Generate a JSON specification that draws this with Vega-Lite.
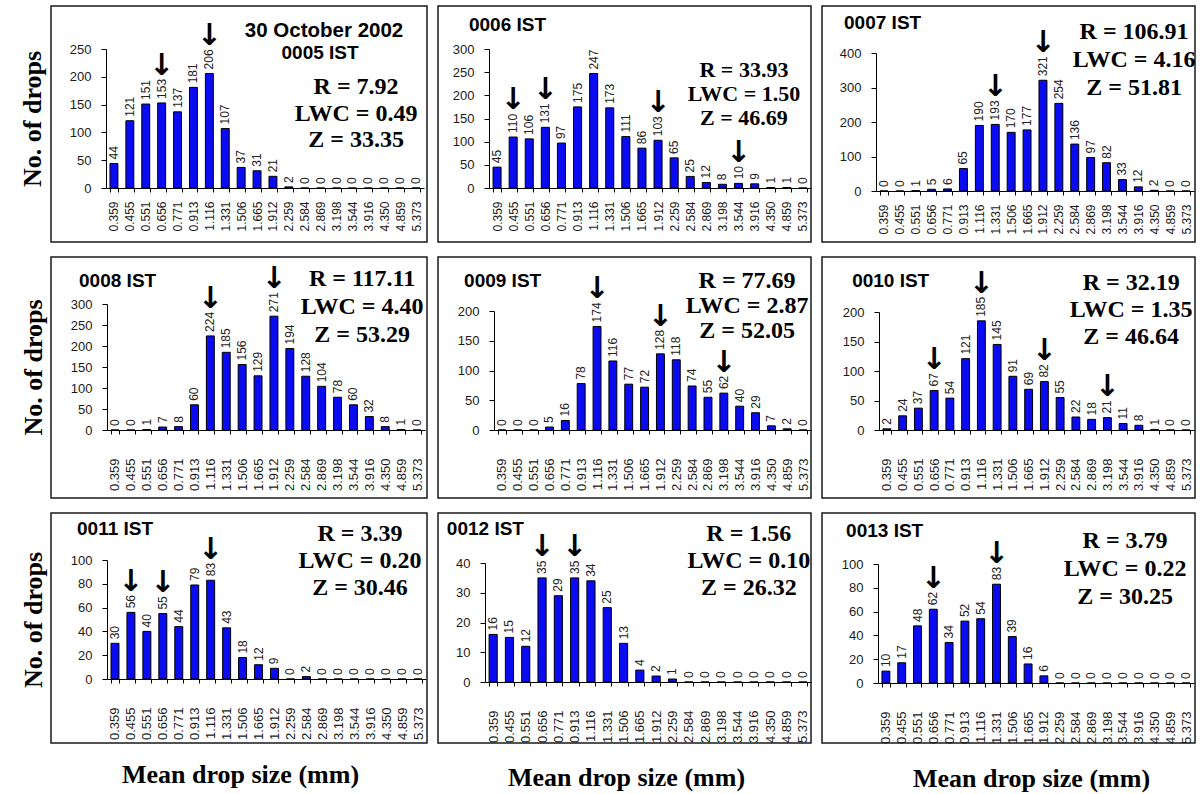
{
"$schema": "https://vega.github.io/schema/vega-lite/v6.json",
"padding": {"left": 18, "top": 5, "right": 0, "bottom": 0},
"background": "white",
"datasets": {
"drops": [
{"panel":"0005","size":"0.359","count":44,"peak":0},{"panel":"0005","size":"0.455","count":121,"peak":0},{"panel":"0005","size":"0.551","count":151,"peak":0},{"panel":"0005","size":"0.656","count":153,"peak":1},{"panel":"0005","size":"0.771","count":137,"peak":0},{"panel":"0005","size":"0.913","count":181,"peak":0},{"panel":"0005","size":"1.116","count":206,"peak":1},{"panel":"0005","size":"1.331","count":107,"peak":0},{"panel":"0005","size":"1.506","count":37,"peak":0},{"panel":"0005","size":"1.665","count":31,"peak":0},{"panel":"0005","size":"1.912","count":21,"peak":0},{"panel":"0005","size":"2.259","count":2,"peak":0},{"panel":"0005","size":"2.584","count":0,"peak":0},{"panel":"0005","size":"2.869","count":0,"peak":0},{"panel":"0005","size":"3.198","count":0,"peak":0},{"panel":"0005","size":"3.544","count":0,"peak":0},{"panel":"0005","size":"3.916","count":0,"peak":0},{"panel":"0005","size":"4.350","count":0,"peak":0},{"panel":"0005","size":"4.859","count":0,"peak":0},{"panel":"0005","size":"5.373","count":0,"peak":0},
{"panel":"0006","size":"0.359","count":45,"peak":0},{"panel":"0006","size":"0.455","count":110,"peak":1},{"panel":"0006","size":"0.551","count":106,"peak":0},{"panel":"0006","size":"0.656","count":131,"peak":1},{"panel":"0006","size":"0.771","count":97,"peak":0},{"panel":"0006","size":"0.913","count":175,"peak":0},{"panel":"0006","size":"1.116","count":247,"peak":0},{"panel":"0006","size":"1.331","count":173,"peak":0},{"panel":"0006","size":"1.506","count":111,"peak":0},{"panel":"0006","size":"1.665","count":86,"peak":0},{"panel":"0006","size":"1.912","count":103,"peak":1},{"panel":"0006","size":"2.259","count":65,"peak":0},{"panel":"0006","size":"2.584","count":25,"peak":0},{"panel":"0006","size":"2.869","count":12,"peak":0},{"panel":"0006","size":"3.198","count":8,"peak":0},{"panel":"0006","size":"3.544","count":10,"peak":1},{"panel":"0006","size":"3.916","count":9,"peak":0},{"panel":"0006","size":"4.350","count":1,"peak":0},{"panel":"0006","size":"4.859","count":1,"peak":0},{"panel":"0006","size":"5.373","count":0,"peak":0},
{"panel":"0007","size":"0.359","count":0,"peak":0},{"panel":"0007","size":"0.455","count":0,"peak":0},{"panel":"0007","size":"0.551","count":1,"peak":0},{"panel":"0007","size":"0.656","count":5,"peak":0},{"panel":"0007","size":"0.771","count":6,"peak":0},{"panel":"0007","size":"0.913","count":65,"peak":0},{"panel":"0007","size":"1.116","count":190,"peak":0},{"panel":"0007","size":"1.331","count":193,"peak":1},{"panel":"0007","size":"1.506","count":170,"peak":0},{"panel":"0007","size":"1.665","count":177,"peak":0},{"panel":"0007","size":"1.912","count":321,"peak":1},{"panel":"0007","size":"2.259","count":254,"peak":0},{"panel":"0007","size":"2.584","count":136,"peak":0},{"panel":"0007","size":"2.869","count":97,"peak":0},{"panel":"0007","size":"3.198","count":82,"peak":0},{"panel":"0007","size":"3.544","count":33,"peak":0},{"panel":"0007","size":"3.916","count":12,"peak":0},{"panel":"0007","size":"4.350","count":2,"peak":0},{"panel":"0007","size":"4.859","count":0,"peak":0},{"panel":"0007","size":"5.373","count":0,"peak":0},
{"panel":"0008","size":"0.359","count":0,"peak":0},{"panel":"0008","size":"0.455","count":0,"peak":0},{"panel":"0008","size":"0.551","count":1,"peak":0},{"panel":"0008","size":"0.656","count":7,"peak":0},{"panel":"0008","size":"0.771","count":8,"peak":0},{"panel":"0008","size":"0.913","count":60,"peak":0},{"panel":"0008","size":"1.116","count":224,"peak":1},{"panel":"0008","size":"1.331","count":185,"peak":0},{"panel":"0008","size":"1.506","count":156,"peak":0},{"panel":"0008","size":"1.665","count":129,"peak":0},{"panel":"0008","size":"1.912","count":271,"peak":1},{"panel":"0008","size":"2.259","count":194,"peak":0},{"panel":"0008","size":"2.584","count":128,"peak":0},{"panel":"0008","size":"2.869","count":104,"peak":0},{"panel":"0008","size":"3.198","count":78,"peak":0},{"panel":"0008","size":"3.544","count":60,"peak":0},{"panel":"0008","size":"3.916","count":32,"peak":0},{"panel":"0008","size":"4.350","count":8,"peak":0},{"panel":"0008","size":"4.859","count":1,"peak":0},{"panel":"0008","size":"5.373","count":0,"peak":0},
{"panel":"0009","size":"0.359","count":0,"peak":0},{"panel":"0009","size":"0.455","count":0,"peak":0},{"panel":"0009","size":"0.551","count":0,"peak":0},{"panel":"0009","size":"0.656","count":5,"peak":0},{"panel":"0009","size":"0.771","count":16,"peak":0},{"panel":"0009","size":"0.913","count":78,"peak":0},{"panel":"0009","size":"1.116","count":174,"peak":1},{"panel":"0009","size":"1.331","count":116,"peak":0},{"panel":"0009","size":"1.506","count":77,"peak":0},{"panel":"0009","size":"1.665","count":72,"peak":0},{"panel":"0009","size":"1.912","count":128,"peak":1},{"panel":"0009","size":"2.259","count":118,"peak":0},{"panel":"0009","size":"2.584","count":74,"peak":0},{"panel":"0009","size":"2.869","count":55,"peak":0},{"panel":"0009","size":"3.198","count":62,"peak":1},{"panel":"0009","size":"3.544","count":40,"peak":0},{"panel":"0009","size":"3.916","count":29,"peak":0},{"panel":"0009","size":"4.350","count":7,"peak":0},{"panel":"0009","size":"4.859","count":2,"peak":0},{"panel":"0009","size":"5.373","count":0,"peak":0},
{"panel":"0010","size":"0.359","count":2,"peak":0},{"panel":"0010","size":"0.455","count":24,"peak":0},{"panel":"0010","size":"0.551","count":37,"peak":0},{"panel":"0010","size":"0.656","count":67,"peak":1},{"panel":"0010","size":"0.771","count":54,"peak":0},{"panel":"0010","size":"0.913","count":121,"peak":0},{"panel":"0010","size":"1.116","count":185,"peak":1},{"panel":"0010","size":"1.331","count":145,"peak":0},{"panel":"0010","size":"1.506","count":91,"peak":0},{"panel":"0010","size":"1.665","count":69,"peak":0},{"panel":"0010","size":"1.912","count":82,"peak":1},{"panel":"0010","size":"2.259","count":55,"peak":0},{"panel":"0010","size":"2.584","count":22,"peak":0},{"panel":"0010","size":"2.869","count":18,"peak":0},{"panel":"0010","size":"3.198","count":21,"peak":1},{"panel":"0010","size":"3.544","count":11,"peak":0},{"panel":"0010","size":"3.916","count":8,"peak":0},{"panel":"0010","size":"4.350","count":1,"peak":0},{"panel":"0010","size":"4.859","count":0,"peak":0},{"panel":"0010","size":"5.373","count":0,"peak":0},
{"panel":"0011","size":"0.359","count":30,"peak":0},{"panel":"0011","size":"0.455","count":56,"peak":1},{"panel":"0011","size":"0.551","count":40,"peak":0},{"panel":"0011","size":"0.656","count":55,"peak":1},{"panel":"0011","size":"0.771","count":44,"peak":0},{"panel":"0011","size":"0.913","count":79,"peak":0},{"panel":"0011","size":"1.116","count":83,"peak":1},{"panel":"0011","size":"1.331","count":43,"peak":0},{"panel":"0011","size":"1.506","count":18,"peak":0},{"panel":"0011","size":"1.665","count":12,"peak":0},{"panel":"0011","size":"1.912","count":9,"peak":0},{"panel":"0011","size":"2.259","count":0,"peak":0},{"panel":"0011","size":"2.584","count":2,"peak":0},{"panel":"0011","size":"2.869","count":0,"peak":0},{"panel":"0011","size":"3.198","count":0,"peak":0},{"panel":"0011","size":"3.544","count":0,"peak":0},{"panel":"0011","size":"3.916","count":0,"peak":0},{"panel":"0011","size":"4.350","count":0,"peak":0},{"panel":"0011","size":"4.859","count":0,"peak":0},{"panel":"0011","size":"5.373","count":0,"peak":0},
{"panel":"0012","size":"0.359","count":16,"peak":0},{"panel":"0012","size":"0.455","count":15,"peak":0},{"panel":"0012","size":"0.551","count":12,"peak":0},{"panel":"0012","size":"0.656","count":35,"peak":1},{"panel":"0012","size":"0.771","count":29,"peak":0},{"panel":"0012","size":"0.913","count":35,"peak":1},{"panel":"0012","size":"1.116","count":34,"peak":0},{"panel":"0012","size":"1.331","count":25,"peak":0},{"panel":"0012","size":"1.506","count":13,"peak":0},{"panel":"0012","size":"1.665","count":4,"peak":0},{"panel":"0012","size":"1.912","count":2,"peak":0},{"panel":"0012","size":"2.259","count":1,"peak":0},{"panel":"0012","size":"2.584","count":0,"peak":0},{"panel":"0012","size":"2.869","count":0,"peak":0},{"panel":"0012","size":"3.198","count":0,"peak":0},{"panel":"0012","size":"3.544","count":0,"peak":0},{"panel":"0012","size":"3.916","count":0,"peak":0},{"panel":"0012","size":"4.350","count":0,"peak":0},{"panel":"0012","size":"4.859","count":0,"peak":0},{"panel":"0012","size":"5.373","count":0,"peak":0},
{"panel":"0013","size":"0.359","count":10,"peak":0},{"panel":"0013","size":"0.455","count":17,"peak":0},{"panel":"0013","size":"0.551","count":48,"peak":0},{"panel":"0013","size":"0.656","count":62,"peak":1},{"panel":"0013","size":"0.771","count":34,"peak":0},{"panel":"0013","size":"0.913","count":52,"peak":0},{"panel":"0013","size":"1.116","count":54,"peak":0},{"panel":"0013","size":"1.331","count":83,"peak":1},{"panel":"0013","size":"1.506","count":39,"peak":0},{"panel":"0013","size":"1.665","count":16,"peak":0},{"panel":"0013","size":"1.912","count":6,"peak":0},{"panel":"0013","size":"2.259","count":0,"peak":0},{"panel":"0013","size":"2.584","count":0,"peak":0},{"panel":"0013","size":"2.869","count":0,"peak":0},{"panel":"0013","size":"3.198","count":0,"peak":0},{"panel":"0013","size":"3.544","count":0,"peak":0},{"panel":"0013","size":"3.916","count":0,"peak":0},{"panel":"0013","size":"4.350","count":0,"peak":0},{"panel":"0013","size":"4.859","count":0,"peak":0},{"panel":"0013","size":"5.373","count":0,"peak":0}
],
"notes": [
{"panel":"0005","time":"0005 IST","date":"30 October 2002","stats":"R = 7.92\nLWC = 0.49\nZ = 33.35"},
{"panel":"0006","time":"0006 IST","date":"","stats":"R = 33.93\nLWC = 1.50\nZ = 46.69"},
{"panel":"0007","time":"0007 IST","date":"","stats":"R = 106.91\nLWC = 4.16\nZ = 51.81"},
{"panel":"0008","time":"0008 IST","date":"","stats":"R = 117.11\nLWC = 4.40\nZ = 53.29"},
{"panel":"0009","time":"0009 IST","date":"","stats":"R = 77.69\nLWC = 2.87\nZ = 52.05"},
{"panel":"0010","time":"0010 IST","date":"","stats":"R = 32.19\nLWC = 1.35\nZ = 46.64"},
{"panel":"0011","time":"0011 IST","date":"","stats":"R = 3.39\nLWC = 0.20\nZ = 30.46"},
{"panel":"0012","time":"0012 IST","date":"","stats":"R = 1.56\nLWC = 0.10\nZ = 26.32"},
{"panel":"0013","time":"0013 IST","date":"","stats":"R = 3.79\nLWC = 0.22\nZ = 30.25"}
]
},
"columns": 3,
"spacing": {"row": 15, "column": 11},
"bounds": "flush",
"concat": [
{"width":376,"height":236,"data":{"name":"drops"},"transform":[{"filter":"datum.panel == '0005'"}],
"encoding":{"x":{"field":"size","type":"ordinal","scale":{"type":"band","domain":["0.359","0.455","0.551","0.656","0.771","0.913","1.116","1.331","1.506","1.665","1.912","2.259","2.584","2.869","3.198","3.544","3.916","4.350","4.859","5.373"],"range":[55,373],"paddingInner":0.5,"paddingOuter":0.25},"axis":{"offset":-54,"labelPadding":9,"labelFontSize":12,"title":null}},
"y":{"field":"count","type":"quantitative","scale":{"domain":[0,250],"range":[182,43],"nice":false},"axis":{"offset":-55,"values":[0,50,100,150,200,250],"title":"No. of drops","titlePadding":24}}},
"layer":[
{"mark":{"type":"bar"}},
{"mark":{"type":"text","angle":270,"align":"left","baseline":"middle","dx":4,"font":"Liberation Sans","fontSize":12,"fill":"#222"},"encoding":{"text":{"field":"count"}}},
{"transform":[{"filter":"datum.peak == 1"}],"mark":{"type":"text","text":"↓","font":"DejaVu Sans","fontWeight":"bold","fontSize":30,"fill":"#000","align":"center","baseline":"alphabetic","clip":true,"dy":{"expr":"-(8 + 6.7*length(toString(datum.count)))"}}},
{"transform":[{"filter":"datum.size == '5.373'"},{"lookup":"panel","from":{"data":{"name":"notes"},"key":"panel","fields":["time","date","stats"]}}],
"layer":[
{"mark":{"type":"text","align":"center","baseline":"middle","font":"Liberation Sans","fontWeight":"bold","fontSize":20.5,"dx":-92,"dy":-157},"encoding":{"text":{"field":"date"}}},
{"mark":{"type":"text","align":"center","baseline":"middle","font":"Liberation Sans","fontWeight":"bold","fontSize":19,"dx":-96,"dy":-135},"encoding":{"text":{"field":"time"}}},
{"mark":{"type":"text","align":"center","baseline":"alphabetic","font":"Liberation Serif","fontWeight":"bold","fontSize":24,"lineBreak":"\n","lineHeight":26.5,"dx":-60,"dy":-94},"encoding":{"text":{"field":"stats"}}}
]}
]},
{"width":373,"height":236,"data":{"name":"drops"},"transform":[{"filter":"datum.panel == '0006'"}],
"encoding":{"x":{"field":"size","type":"ordinal","scale":{"type":"band","domain":["0.359","0.455","0.551","0.656","0.771","0.913","1.116","1.331","1.506","1.665","1.912","2.259","2.584","2.869","3.198","3.544","3.916","4.350","4.859","5.373"],"range":[51,373],"paddingInner":0.5,"paddingOuter":0.25},"axis":{"offset":-54,"labelPadding":9,"labelFontSize":12,"title":null}},
"y":{"field":"count","type":"quantitative","scale":{"domain":[0,300],"range":[182,43],"nice":false},"axis":{"offset":-51,"values":[0,50,100,150,200,250,300],"title":null}}},
"layer":[
{"mark":{"type":"bar"}},
{"mark":{"type":"text","angle":270,"align":"left","baseline":"middle","dx":4,"font":"Liberation Sans","fontSize":12,"fill":"#222"},"encoding":{"text":{"field":"count"}}},
{"transform":[{"filter":"datum.peak == 1"}],"mark":{"type":"text","text":"↓","font":"DejaVu Sans","fontWeight":"bold","fontSize":30,"fill":"#000","align":"center","baseline":"alphabetic","clip":true,"dy":{"expr":"-(8 + 6.7*length(toString(datum.count)))"}}},
{"transform":[{"filter":"datum.size == '5.373'"},{"lookup":"panel","from":{"data":{"name":"notes"},"key":"panel","fields":["time","stats"]}}],
"layer":[
{"mark":{"type":"text","align":"left","baseline":"middle","font":"Liberation Sans","fontWeight":"bold","fontSize":19,"dx":-334,"dy":-163},"encoding":{"text":{"field":"time"}}},
{"mark":{"type":"text","align":"center","baseline":"alphabetic","font":"Liberation Serif","fontWeight":"bold","fontSize":22,"lineBreak":"\n","lineHeight":24,"dx":-59,"dy":-111},"encoding":{"text":{"field":"stats"}}}
]}
]},
{"width":373,"height":236,"data":{"name":"drops"},"transform":[{"filter":"datum.panel == '0007'"}],
"encoding":{"x":{"field":"size","type":"ordinal","scale":{"type":"band","domain":["0.359","0.455","0.551","0.656","0.771","0.913","1.116","1.331","1.506","1.665","1.912","2.259","2.584","2.869","3.198","3.544","3.916","4.350","4.859","5.373"],"range":[54,372],"paddingInner":0.5,"paddingOuter":0.25},"axis":{"offset":-51,"labelPadding":9,"labelFontSize":12,"title":null}},
"y":{"field":"count","type":"quantitative","scale":{"domain":[0,400],"range":[185,47],"nice":false},"axis":{"offset":-54,"values":[0,100,200,300,400],"title":null}}},
"layer":[
{"mark":{"type":"bar"}},
{"mark":{"type":"text","angle":270,"align":"left","baseline":"middle","dx":4,"font":"Liberation Sans","fontSize":12,"fill":"#222"},"encoding":{"text":{"field":"count"}}},
{"transform":[{"filter":"datum.peak == 1"}],"mark":{"type":"text","text":"↓","font":"DejaVu Sans","fontWeight":"bold","fontSize":30,"fill":"#000","align":"center","baseline":"alphabetic","clip":true,"dy":{"expr":"-(8 + 6.7*length(toString(datum.count)))"}}},
{"transform":[{"filter":"datum.size == '5.373'"},{"lookup":"panel","from":{"data":{"name":"notes"},"key":"panel","fields":["time","stats"]}}],
"layer":[
{"mark":{"type":"text","align":"left","baseline":"middle","font":"Liberation Sans","fontWeight":"bold","fontSize":19,"dx":-342,"dy":-168},"encoding":{"text":{"field":"time"}}},
{"mark":{"type":"text","align":"center","baseline":"alphabetic","font":"Liberation Serif","fontWeight":"bold","fontSize":24,"lineBreak":"\n","lineHeight":28,"dx":-52,"dy":-152},"encoding":{"text":{"field":"stats"}}}
]}
]},
{"width":376,"height":241,"data":{"name":"drops"},"transform":[{"filter":"datum.panel == '0008'"}],
"encoding":{"x":{"field":"size","type":"ordinal","scale":{"type":"band","domain":["0.359","0.455","0.551","0.656","0.771","0.913","1.116","1.331","1.506","1.665","1.912","2.259","2.584","2.869","3.198","3.544","3.916","4.350","4.859","5.373"],"range":[56,374],"paddingInner":0.5,"paddingOuter":0.25},"axis":{"offset":-68,"labelPadding":24,"labelFontSize":13,"title":null}},
"y":{"field":"count","type":"quantitative","scale":{"domain":[0,300],"range":[173,47],"nice":false},"axis":{"offset":-56,"values":[0,50,100,150,200,250,300],"title":"No. of drops","titlePadding":24}}},
"layer":[
{"mark":{"type":"bar"}},
{"mark":{"type":"text","angle":270,"align":"left","baseline":"middle","dx":4,"font":"Liberation Sans","fontSize":12,"fill":"#222"},"encoding":{"text":{"field":"count"}}},
{"transform":[{"filter":"datum.peak == 1"}],"mark":{"type":"text","text":"↓","font":"DejaVu Sans","fontWeight":"bold","fontSize":30,"fill":"#000","align":"center","baseline":"alphabetic","clip":true,"dy":{"expr":"-(8 + 6.7*length(toString(datum.count)))"}}},
{"transform":[{"filter":"datum.size == '5.373'"},{"lookup":"panel","from":{"data":{"name":"notes"},"key":"panel","fields":["time","stats"]}}],
"layer":[
{"mark":{"type":"text","align":"left","baseline":"middle","font":"Liberation Sans","fontWeight":"bold","fontSize":19,"dx":-338,"dy":-149},"encoding":{"text":{"field":"time"}}},
{"mark":{"type":"text","align":"center","baseline":"alphabetic","font":"Liberation Serif","fontWeight":"bold","fontSize":24,"lineBreak":"\n","lineHeight":28,"dx":-55,"dy":-144},"encoding":{"text":{"field":"stats"}}}
]}
]},
{"width":373,"height":241,"data":{"name":"drops"},"transform":[{"filter":"datum.panel == '0009'"}],
"encoding":{"x":{"field":"size","type":"ordinal","scale":{"type":"band","domain":["0.359","0.455","0.551","0.656","0.771","0.913","1.116","1.331","1.506","1.665","1.912","2.259","2.584","2.869","3.198","3.544","3.916","4.350","4.859","5.373"],"range":[56,373],"paddingInner":0.5,"paddingOuter":0.25},"axis":{"offset":-68,"labelPadding":24,"labelFontSize":13,"title":null}},
"y":{"field":"count","type":"quantitative","scale":{"domain":[0,200],"range":[173,54],"nice":false},"axis":{"offset":-56,"values":[0,50,100,150,200],"title":null}}},
"layer":[
{"mark":{"type":"bar"}},
{"mark":{"type":"text","angle":270,"align":"left","baseline":"middle","dx":4,"font":"Liberation Sans","fontSize":12,"fill":"#222"},"encoding":{"text":{"field":"count"}}},
{"transform":[{"filter":"datum.peak == 1"}],"mark":{"type":"text","text":"↓","font":"DejaVu Sans","fontWeight":"bold","fontSize":30,"fill":"#000","align":"center","baseline":"alphabetic","clip":true,"dy":{"expr":"-(8 + 6.7*length(toString(datum.count)))"}}},
{"transform":[{"filter":"datum.size == '5.373'"},{"lookup":"panel","from":{"data":{"name":"notes"},"key":"panel","fields":["time","stats"]}}],
"layer":[
{"mark":{"type":"text","align":"left","baseline":"middle","font":"Liberation Sans","fontWeight":"bold","fontSize":19,"dx":-339,"dy":-149},"encoding":{"text":{"field":"time"}}},
{"mark":{"type":"text","align":"center","baseline":"alphabetic","font":"Liberation Serif","fontWeight":"bold","fontSize":24,"lineBreak":"\n","lineHeight":25,"dx":-56,"dy":-142},"encoding":{"text":{"field":"stats"}}}
]}
]},
{"width":373,"height":241,"data":{"name":"drops"},"transform":[{"filter":"datum.panel == '0010'"}],
"encoding":{"x":{"field":"size","type":"ordinal","scale":{"type":"band","domain":["0.359","0.455","0.551","0.656","0.771","0.913","1.116","1.331","1.506","1.665","1.912","2.259","2.584","2.869","3.198","3.544","3.916","4.350","4.859","5.373"],"range":[57,372],"paddingInner":0.5,"paddingOuter":0.25},"axis":{"offset":-68,"labelPadding":24,"labelFontSize":13,"title":null}},
"y":{"field":"count","type":"quantitative","scale":{"domain":[0,200],"range":[173,55],"nice":false},"axis":{"offset":-57,"values":[0,50,100,150,200],"title":null}}},
"layer":[
{"mark":{"type":"bar"}},
{"mark":{"type":"text","angle":270,"align":"left","baseline":"middle","dx":4,"font":"Liberation Sans","fontSize":12,"fill":"#222"},"encoding":{"text":{"field":"count"}}},
{"transform":[{"filter":"datum.peak == 1"}],"mark":{"type":"text","text":"↓","font":"DejaVu Sans","fontWeight":"bold","fontSize":30,"fill":"#000","align":"center","baseline":"alphabetic","clip":true,"dy":{"expr":"-(8 + 6.7*length(toString(datum.count)))"}}},
{"transform":[{"filter":"datum.size == '5.373'"},{"lookup":"panel","from":{"data":{"name":"notes"},"key":"panel","fields":["time","stats"]}}],
"layer":[
{"mark":{"type":"text","align":"left","baseline":"middle","font":"Liberation Sans","fontWeight":"bold","fontSize":19,"dx":-334,"dy":-149},"encoding":{"text":{"field":"time"}}},
{"mark":{"type":"text","align":"center","baseline":"alphabetic","font":"Liberation Serif","fontWeight":"bold","fontSize":24,"lineBreak":"\n","lineHeight":27,"dx":-55,"dy":-140},"encoding":{"text":{"field":"stats"}}}
]}
]},
{"width":376,"height":230,"data":{"name":"drops"},"transform":[{"filter":"datum.panel == '0011'"}],
"encoding":{"x":{"field":"size","type":"ordinal","scale":{"type":"band","domain":["0.359","0.455","0.551","0.656","0.771","0.913","1.116","1.331","1.506","1.665","1.912","2.259","2.584","2.869","3.198","3.544","3.916","4.350","4.859","5.373"],"range":[56,375],"paddingInner":0.5,"paddingOuter":0.25},"axis":{"offset":-64,"labelPadding":24,"labelFontSize":13,"title":"Mean drop size (mm)","titlePadding":22,"titleX":189}},
"y":{"field":"count","type":"quantitative","scale":{"domain":[0,100],"range":[166,47],"nice":false},"axis":{"offset":-56,"values":[0,20,40,60,80,100],"title":"No. of drops","titlePadding":24}}},
"layer":[
{"mark":{"type":"bar"}},
{"mark":{"type":"text","angle":270,"align":"left","baseline":"middle","dx":4,"font":"Liberation Sans","fontSize":12,"fill":"#222"},"encoding":{"text":{"field":"count"}}},
{"transform":[{"filter":"datum.peak == 1"}],"mark":{"type":"text","text":"↓","font":"DejaVu Sans","fontWeight":"bold","fontSize":30,"fill":"#000","align":"center","baseline":"alphabetic","clip":true,"dy":{"expr":"-(8 + 6.7*length(toString(datum.count)))"}}},
{"transform":[{"filter":"datum.size == '5.373'"},{"lookup":"panel","from":{"data":{"name":"notes"},"key":"panel","fields":["time","stats"]}}],
"layer":[
{"mark":{"type":"text","align":"left","baseline":"middle","font":"Liberation Sans","fontWeight":"bold","fontSize":19,"dx":-341,"dy":-150},"encoding":{"text":{"field":"time"}}},
{"mark":{"type":"text","align":"center","baseline":"alphabetic","font":"Liberation Serif","fontWeight":"bold","fontSize":24,"lineBreak":"\n","lineHeight":27,"dx":-58,"dy":-138},"encoding":{"text":{"field":"stats"}}}
]}
]},
{"width":373,"height":230,"data":{"name":"drops"},"transform":[{"filter":"datum.panel == '0012'"}],
"encoding":{"x":{"field":"size","type":"ordinal","scale":{"type":"band","domain":["0.359","0.455","0.551","0.656","0.771","0.913","1.116","1.331","1.506","1.665","1.912","2.259","2.584","2.869","3.198","3.544","3.916","4.350","4.859","5.373"],"range":[47,373],"paddingInner":0.5,"paddingOuter":0.25},"axis":{"offset":-61,"labelPadding":24,"labelFontSize":13,"title":"Mean drop size (mm)","titlePadding":22,"titleX":188}},
"y":{"field":"count","type":"quantitative","scale":{"domain":[0,40],"range":[169,50],"nice":false},"axis":{"offset":-47,"values":[0,10,20,30,40],"title":null}}},
"layer":[
{"mark":{"type":"bar"}},
{"mark":{"type":"text","angle":270,"align":"left","baseline":"middle","dx":4,"font":"Liberation Sans","fontSize":12,"fill":"#222"},"encoding":{"text":{"field":"count"}}},
{"transform":[{"filter":"datum.peak == 1"}],"mark":{"type":"text","text":"↓","font":"DejaVu Sans","fontWeight":"bold","fontSize":30,"fill":"#000","align":"center","baseline":"alphabetic","clip":true,"dy":{"expr":"-(8 + 6.7*length(toString(datum.count)))"}}},
{"transform":[{"filter":"datum.size == '5.373'"},{"lookup":"panel","from":{"data":{"name":"notes"},"key":"panel","fields":["time","stats"]}}],
"layer":[
{"mark":{"type":"text","align":"left","baseline":"middle","font":"Liberation Sans","fontWeight":"bold","fontSize":19,"dx":-356,"dy":-153},"encoding":{"text":{"field":"time"}}},
{"mark":{"type":"text","align":"center","baseline":"alphabetic","font":"Liberation Serif","fontWeight":"bold","fontSize":24,"lineBreak":"\n","lineHeight":27,"dx":-54,"dy":-141},"encoding":{"text":{"field":"stats"}}}
]}
]},
{"width":373,"height":230,"data":{"name":"drops"},"transform":[{"filter":"datum.panel == '0013'"}],
"encoding":{"x":{"field":"size","type":"ordinal","scale":{"type":"band","domain":["0.359","0.455","0.551","0.656","0.771","0.913","1.116","1.331","1.506","1.665","1.912","2.259","2.584","2.869","3.198","3.544","3.916","4.350","4.859","5.373"],"range":[56,372],"paddingInner":0.5,"paddingOuter":0.25},"axis":{"offset":-60,"labelPadding":24,"labelFontSize":13,"title":"Mean drop size (mm)","titlePadding":22,"titleX":209}},
"y":{"field":"count","type":"quantitative","scale":{"domain":[0,100],"range":[170,51],"nice":false},"axis":{"offset":-56,"values":[0,20,40,60,80,100],"title":null}}},
"layer":[
{"mark":{"type":"bar"}},
{"mark":{"type":"text","angle":270,"align":"left","baseline":"middle","dx":4,"font":"Liberation Sans","fontSize":12,"fill":"#222"},"encoding":{"text":{"field":"count"}}},
{"transform":[{"filter":"datum.peak == 1"}],"mark":{"type":"text","text":"↓","font":"DejaVu Sans","fontWeight":"bold","fontSize":30,"fill":"#000","align":"center","baseline":"alphabetic","clip":true,"dy":{"expr":"-(8 + 6.7*length(toString(datum.count)))"}}},
{"transform":[{"filter":"datum.size == '5.373'"},{"lookup":"panel","from":{"data":{"name":"notes"},"key":"panel","fields":["time","stats"]}}],
"layer":[
{"mark":{"type":"text","align":"left","baseline":"middle","font":"Liberation Sans","fontWeight":"bold","fontSize":19,"dx":-340,"dy":-152},"encoding":{"text":{"field":"time"}}},
{"mark":{"type":"text","align":"center","baseline":"alphabetic","font":"Liberation Serif","fontWeight":"bold","fontSize":24,"lineBreak":"\n","lineHeight":28,"dx":-61,"dy":-135},"encoding":{"text":{"field":"stats"}}}
]}
]}
],
"config": {
"view": {"stroke": "#1a1a1a", "strokeWidth": 1.5},
"axis": {"grid": false, "domainColor": "#000", "domainWidth": 1, "tickColor": "#000", "tickWidth": 1, "labelColor": "#1a1a1a", "labelFont": "Liberation Sans", "titleFont": "Liberation Serif", "titleFontWeight": "bold", "titleFontSize": 26, "titleColor": "#000"},
"axisX": {"labelAngle": 270, "tickBand": "extent", "tickSize": 4},
"axisY": {"tickSize": 5, "labelPadding": 10, "labelFontSize": 13},
"bar": {"fill": "#0b0bf2", "stroke": "#000", "strokeWidth": 1}
}
}
